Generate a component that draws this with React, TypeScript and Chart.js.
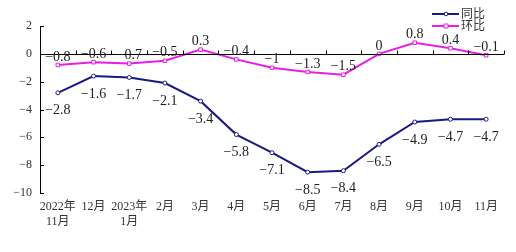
import React, { useEffect, useRef } from "react";
import { Chart, registerables } from "chart.js";

Chart.register(...registerables);

const categories: (string | string[])[] = [
  ["2022年", "11月"], "12月", ["2023年", "1月"], "2月", "3月", "4月", "5月", "6月", "7月", "8月", "9月", "10月", "11月",
];
const yoyValues = [-2.8, -1.6, -1.7, -2.1, -3.4, -5.8, -7.1, -8.5, -8.4, -6.5, -4.9, -4.7, -4.7];
const momValues = [-0.8, -0.6, -0.7, -0.5, 0.3, -0.4, -1, -1.3, -1.5, 0, 0.8, 0.4, -0.1];
const seriesNames = ["同比", "环比"];
const yTicks = [2, 0, -2, -4, -6, -8, -10];

const NAVY = "#1a1a7e";
const MAGENTA = "#e61ee6";
const FONT = "'Liberation Serif', 'Noto Sans CJK SC', serif";

const fmt = (v: number) => (v < 0 ? "\u2212" + String(Math.abs(v)) : String(v));

const decorPlugin = {
  id: "decor",
  afterDatasetsDraw(chart: any) {
    const { ctx, chartArea, scales } = chart;
    const y = scales.y;
    ctx.save();
    // y axis line and ticks
    ctx.strokeStyle = "#000";
    ctx.lineWidth = 1;
    ctx.beginPath();
    ctx.moveTo(chartArea.left + 0.5, chartArea.top);
    ctx.lineTo(chartArea.left + 0.5, chartArea.bottom);
    yTicks.forEach((t) => {
      const py = Math.round(y.getPixelForValue(t)) + 0.5;
      ctx.moveTo(chartArea.left, py);
      ctx.lineTo(chartArea.left + 4, py);
    });
    // zero line with upward ticks at category boundaries
    const y0 = Math.round(y.getPixelForValue(0)) + 0.5;
    ctx.moveTo(chartArea.left, y0);
    ctx.lineTo(chartArea.right, y0);
    const n = categories.length;
    const step = (chartArea.right - chartArea.left) / n;
    for (let i = 1; i <= n; i++) {
      const px = Math.round(chartArea.left + step * i) + 0.5;
      ctx.moveTo(px, y0);
      ctx.lineTo(px, y0 - 4);
    }
    ctx.stroke();

    // data labels
    ctx.font = "14px " + FONT;
    ctx.fillStyle = "#222";
    ctx.textAlign = "center";
    ctx.textBaseline = "middle";
    const m0 = chart.getDatasetMeta(0);
    m0.data.forEach((pt: any, i: number) => {
      ctx.fillText(fmt(yoyValues[i]), pt.x, pt.y + 18);
    });
    const m1 = chart.getDatasetMeta(1);
    m1.data.forEach((pt: any, i: number) => {
      ctx.fillText(fmt(momValues[i]), pt.x, pt.y - 8);
    });

    // legend
    ctx.font = "12px " + FONT;
    ctx.textAlign = "left";
    const items = [
      { name: seriesNames[0], color: NAVY, y: 14, ty: 15, shape: "circle" },
      { name: seriesNames[1], color: MAGENTA, y: 26, ty: 27, shape: "square" },
    ];
    items.forEach((it) => {
      ctx.strokeStyle = it.color;
      ctx.lineWidth = 2;
      ctx.beginPath();
      ctx.moveTo(432, it.y);
      ctx.lineTo(459, it.y);
      ctx.stroke();
      ctx.lineWidth = 1;
      ctx.fillStyle = "#fff";
      ctx.beginPath();
      if (it.shape === "circle") {
        ctx.arc(446, it.y, 1.8, 0, Math.PI * 2);
      } else {
        ctx.rect(444, it.y - 2, 4, 4);
      }
      ctx.fill();
      ctx.stroke();
      ctx.fillStyle = "#333";
      ctx.fillText(it.name, 461, it.ty);
    });
    ctx.restore();
  },
};

export default function App() {
  const ref = useRef<HTMLCanvasElement | null>(null);
  useEffect(() => {
    if (!ref.current) return;
    const chart = new Chart(ref.current, {
      type: "line",
      data: {
        labels: categories,
        datasets: [
          {
            label: seriesNames[0],
            data: yoyValues,
            borderColor: NAVY,
            backgroundColor: "#fff",
            borderWidth: 2,
            pointStyle: "circle",
            pointRadius: 2,
            pointBorderWidth: 1,
            pointBorderColor: NAVY,
            pointBackgroundColor: "#fff",
            tension: 0,
          },
          {
            label: seriesNames[1],
            data: momValues,
            borderColor: MAGENTA,
            backgroundColor: "#fff",
            borderWidth: 2,
            pointStyle: "rect",
            pointRadius: 2.5,
            pointBorderWidth: 1,
            pointBorderColor: MAGENTA,
            pointBackgroundColor: "#fff",
            tension: 0,
          },
        ],
      },
      options: {
        animation: false,
        responsive: false,
        maintainAspectRatio: false,
        layout: { padding: { top: 26, right: 12, left: 0, bottom: 0 } },
        plugins: { legend: { display: false }, tooltip: { enabled: false } },
        scales: {
          x: {
            offset: true,
            grid: { display: false, drawTicks: false },
            border: { display: false },
            ticks: {
              color: "#333",
              font: { family: FONT, size: 12 },
              padding: 7,
              maxRotation: 0,
              autoSkip: false,
            },
            afterFit: (s: any) => {
              s.height = 59;
            },
          },
          y: {
            min: -10,
            max: 2,
            grid: { display: false, drawTicks: false },
            border: { display: false },
            ticks: {
              stepSize: 2,
              color: "#333",
              font: { family: FONT, size: 12 },
              padding: 8,
              callback: (v: any) => fmt(Number(v)),
            },
            afterFit: (s: any) => {
              s.width = 40;
            },
          },
        },
      },
      plugins: [decorPlugin],
    });
    return () => chart.destroy();
  }, []);
  return (
    <div style={{ position: "fixed", left: 0, top: 0, width: 516, height: 252, background: "#fff" }}>
      <canvas ref={ref} width={516} height={252} style={{ width: 516, height: 252 }} />
    </div>
  );
}
